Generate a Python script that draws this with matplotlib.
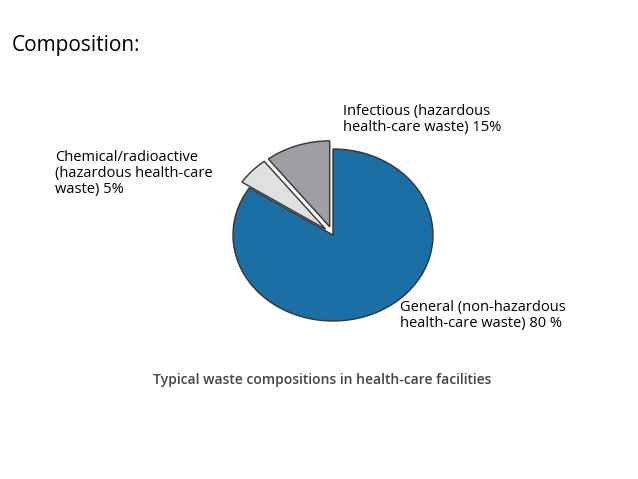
import matplotlib
matplotlib.use("Agg")
import matplotlib.pyplot as plt

categories = ["Infectious", "Chemical/radioactive", "General"]
values = [10, 5, 80]
colors = ["#9d9fa2", "#dfe0e2", "#1b6fa5"]
explode = [0.1, 0.1, 0]

fig = plt.figure(figsize=(6.38, 4.79), dpi=100)
fig.text(12/638, 1-45/479, "Composition:", fontsize=15, family="Open Sans", va="center")
ax = fig.add_axes([233/638, (479-321)/479, 200/638, 172/479])
ax.pie(values, colors=colors, explode=explode, startangle=90, counterclock=True,
       wedgeprops=dict(edgecolor="#333333", linewidth=1.0), frame=False)
for w in ax.patches:
    w.set_clip_on(False)
ax.set_aspect("auto")
ax.set_xlim(-1, 1); ax.set_ylim(-1, 1)
ax.axis("off")

fs = 10.5
fam = "Open Sans"
fig.text(343/638, 1-104/479, "Infectious (hazardous\nhealth-care waste) 15%", fontsize=fs, family=fam, va="top", linespacing=1.1)
fig.text(55/638, 1-150/479, "Chemical/radioactive\n(hazardous health-care\nwaste) 5%", fontsize=fs, family=fam, va="top", linespacing=1.1)
fig.text(400/638, 1-300/479, "General (non-hazardous\nhealth-care waste) 80 %", fontsize=fs, family=fam, va="top", linespacing=1.1)
fig.text(322/638, 1-380/479, "Typical waste compositions in health-care facilities", fontsize=10,
         family=fam, weight="semibold", color="#444444", ha="center", va="center")
fig.savefig("out.png", dpi=100)
